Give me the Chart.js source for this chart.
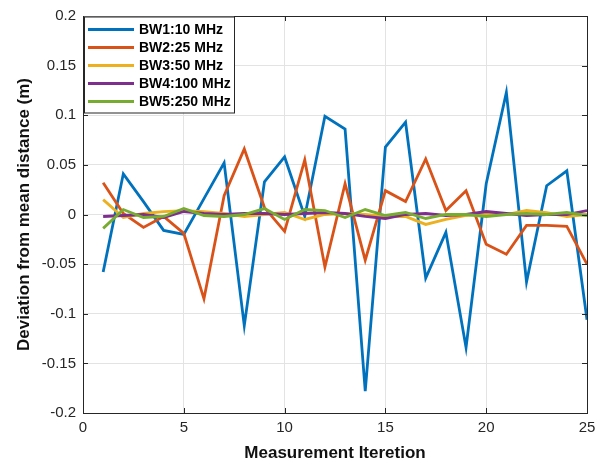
<!DOCTYPE html>
<html>
<head>
<meta charset="utf-8">
<script src="https://cdn.jsdelivr.net/npm/chart.js@4/dist/chart.umd.min.js"></script>
<style>
  html, body { margin: 0; padding: 0; background: #fff; }
  #wrap { width: 605px; height: 464px; }
</style>
</head>
<body>
<div id="wrap"><canvas id="grafica" width="605" height="464"></canvas></div>
<script>
// Datos
const iteracion = [1, 2, 3, 4, 5, 6, 7, 8, 9, 10, 11, 12, 13, 14, 15, 16, 17, 18, 19, 20, 21, 22, 23, 24, 25];
const etiquetas = ['BW1:10 MHz', 'BW2:25 MHz', 'BW3:50 MHz', 'BW4:100 MHz', 'BW5:250 MHz'];
const bw1 = [-0.058, 0.041, 0.013, -0.016, -0.020, 0.016, 0.052, -0.112, 0.033, 0.058, -0.002, 0.099, 0.086, -0.178, 0.068, 0.093, -0.064, -0.018, -0.134, 0.031, 0.123, -0.068, 0.029, 0.044, -0.106];
const bw2 = [0.032, 0.001, -0.013, -0.002, -0.019, -0.085, 0.019, 0.066, 0.007, -0.017, 0.055, -0.053, 0.031, -0.046, 0.024, 0.013, 0.056, 0.004, 0.024, -0.030, -0.040, -0.011, -0.011, -0.012, -0.050];
const bw3 = [0.015, -0.003, 0.001, 0.003, 0.004, 0.003, 0.001, -0.002, 0.000, 0.002, -0.005, 0.000, 0.001, 0.000, -0.002, -0.002, -0.010, -0.005, -0.001, 0.001, 0.000, 0.004, 0.002, -0.002, 0.000];
const bw4 = [-0.002, -0.001, 0.000, -0.003, 0.003, 0.001, 0.000, 0.001, 0.001, 0.000, 0.001, 0.002, 0.001, -0.002, -0.004, 0.000, 0.001, -0.001, 0.000, 0.003, 0.001, -0.001, 0.000, 0.000, 0.004];
const bw5 = [-0.014, 0.005, -0.003, -0.002, 0.006, -0.001, -0.002, 0.000, 0.006, -0.005, 0.005, 0.004, -0.003, 0.005, -0.001, 0.002, -0.004, 0.000, 0.000, -0.002, 0.000, 0.001, 0.000, 0.002, -0.001];
const xTicks = [0, 5, 10, 15, 20, 25];
const yTicks = [-0.2, -0.15, -0.1, -0.05, 0, 0.05, 0.1, 0.15, 0.2];

const colores = ['#0072BD', '#D95319', '#EDB120', '#7E2F8E', '#77AC30'];
const series = [bw1, bw2, bw3, bw4, bw5];
const ejeColor = '#262626';
const fuente = '"Liberation Sans", Arial, Helvetica, sans-serif';

// Caja, marcas interiores y leyenda estilo MATLAB
const cajaPlugin = {
    id: 'caja',
    afterDatasetsDraw(chart) {
        const c = chart.ctx;
        const a = chart.chartArea;
        const sx = chart.scales.x, sy = chart.scales.y;
        c.save();
        c.strokeStyle = ejeColor;
        c.lineWidth = 1;
        c.beginPath();
        xTicks.forEach(v => {
            const px = Math.round(sx.getPixelForValue(v)) + 0.5;
            c.moveTo(px, a.bottom); c.lineTo(px, a.bottom - 5);
            c.moveTo(px, a.top); c.lineTo(px, a.top + 5);
        });
        yTicks.forEach(v => {
            const py = Math.round(sy.getPixelForValue(v)) + 0.5;
            c.moveTo(a.left, py); c.lineTo(a.left + 5, py);
            c.moveTo(a.right, py); c.lineTo(a.right - 5, py);
        });
        c.stroke();
        c.strokeRect(Math.round(a.left) + 0.5, Math.round(a.top) + 0.5,
                     Math.round(a.right - a.left), Math.round(a.bottom - a.top));

        // Leyenda
        const lx = a.left + 1, ly = a.top + 0.5;
        const lw = 150, lh = 96;
        c.fillStyle = '#fff';
        c.fillRect(lx, ly, lw, lh);
        c.strokeRect(Math.round(lx) + 0.5, Math.round(ly), lw, lh);
        c.font = 'bold 14px ' + fuente;
        c.textBaseline = 'middle';
        c.textAlign = 'left';
        chart.data.datasets.forEach((ds, i) => {
            const yy = ly + 13 + i * 18;
            c.strokeStyle = ds.borderColor;
            c.lineWidth = 2.8;
            c.beginPath();
            c.moveTo(lx + 4, yy); c.lineTo(lx + 50, yy);
            c.stroke();
            c.fillStyle = '#000';
            c.fillText(ds.label, lx + 55, yy + 1);
        });
        c.restore();
    }
};

const ctx = document.getElementById('grafica').getContext('2d');
const grafica = new Chart(ctx, {
    type: 'line',
    data: {
        datasets: series.map((s, i) => ({
            label: etiquetas[i],
            data: s.map((v, k) => ({ x: iteracion[k], y: v })),
            borderColor: colores[i],
            backgroundColor: colores[i],
            borderWidth: 2.8,
            pointRadius: 0,
            tension: 0,
            fill: false,
            order: series.length - i
        }))
    },
    options: {
        responsive: false,
        animation: false,
        layout: { padding: { top: 16, right: 18, left: 0, bottom: 0 } },
        plugins: { legend: { display: false }, tooltip: { enabled: false } },
        scales: {
            x: {
                type: 'linear',
                min: 0, max: 25,
                afterBuildTicks: s => { s.ticks = xTicks.map(v => ({ value: v })); },
                afterFit: s => { s.height = 51; },
                grid: { color: '#e3e3e3', drawTicks: false },
                border: { display: false },
                ticks: { color: ejeColor, padding: 6, font: { family: fuente, size: 15 }, maxRotation: 0 },
                title: { display: true, text: 'Measurement Iteretion', color: '#111',
                         font: { family: fuente, size: 17, weight: 'bold' }, padding: { top: 2, bottom: 0 } }
            },
            y: {
                min: -0.2, max: 0.2,
                afterBuildTicks: s => { s.ticks = yTicks.map(v => ({ value: v })); },
                afterFit: s => { s.width = 83; },
                grid: { color: '#e3e3e3', drawTicks: false },
                border: { display: false },
                ticks: { color: ejeColor, padding: 7, font: { family: fuente, size: 15 },
                         callback: v => String(+v.toFixed(2)) },
                title: { display: true, text: 'Deviation from mean distance (m)', color: '#111',
                         font: { family: fuente, size: 17, weight: 'bold' }, padding: { top: 14, bottom: 0 } }
            }
        }
    },
    plugins: [cajaPlugin]
});
</script>
</body>
</html>
